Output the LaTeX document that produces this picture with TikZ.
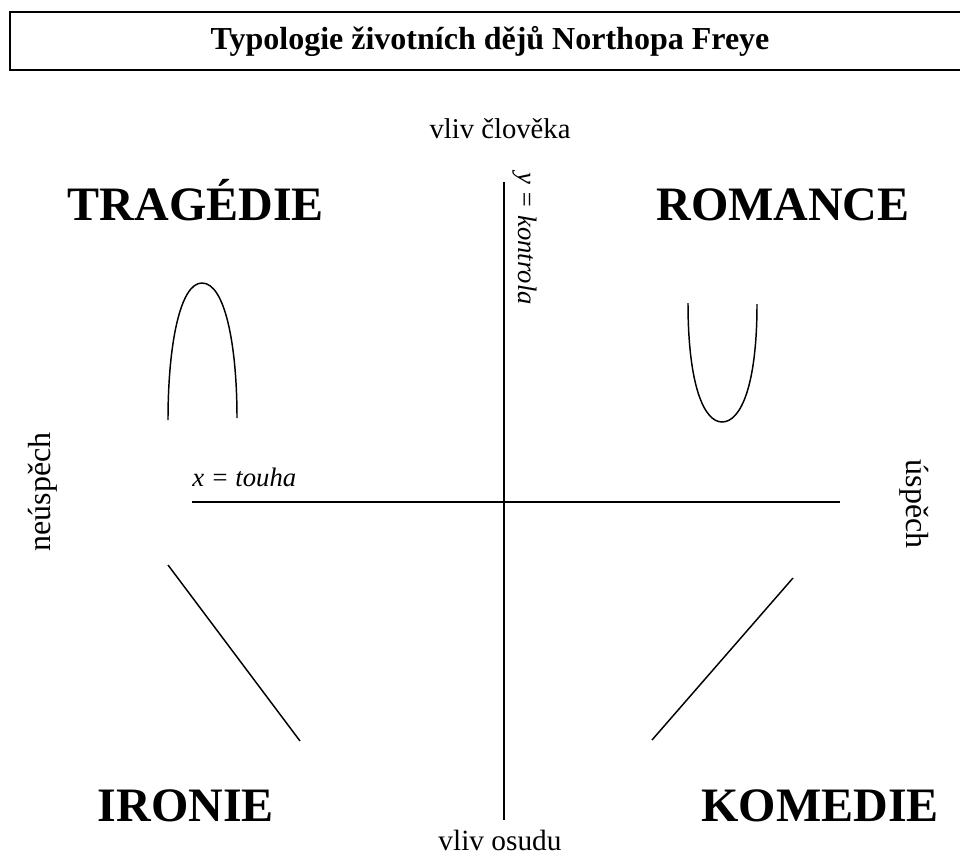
\documentclass[tikz,border=0pt]{standalone}
\usepackage{fontspec}
\setmainfont{Liberation Serif}
\begin{document}
\begin{tikzpicture}[x=0.75pt,y=-0.75pt,
  bigword/.style={font=\fontsize{36}{40}\selectfont\bfseries, inner sep=0pt, anchor=base},
  sidelabel/.style={font=\fontsize{24}{28}\selectfont, inner sep=0pt, anchor=base},
  axislabel/.style={font=\fontsize{20}{24}\selectfont\itshape, inner sep=0pt, anchor=base},
  axisline/.style={line width=1pt},
  curveline/.style={line width=1.1pt}]
\useasboundingbox (0,0) rectangle (960,856);
\clip (0,0) rectangle (960,856);
% title
\node[draw, line width=1.6pt, minimum width=1000*0.75pt, minimum height=58*0.75pt, anchor=north west, inner sep=0pt] (box) at (9,11) {};
\node[font=\fontsize{24}{28}\selectfont\bfseries, inner sep=0pt, anchor=base] (title) at (490,50) {Typologie životních dějů Northopa Freye};
% axes
\coordinate (ytop) at (504,182);
\coordinate (ybot) at (504,820);
\coordinate (xleft) at (192,502);
\coordinate (xright) at (840,502);
\draw[axisline] (ytop) -- (ybot);
\draw[axisline] (xleft) -- (xright);
% labels
\node[sidelabel, font=\fontsize{21.5}{26}\selectfont] (top) at (500,138) {vliv člověka};
\node[sidelabel, font=\fontsize{22}{26}\selectfont] (bottom) at (500,850) {vliv osudu};
\node[sidelabel, rotate=90, anchor=base] (left) at (50,492) {neúspěch};
\node[sidelabel, rotate=-90, anchor=base] (right) at (906,504) {úspěch};
\node[axislabel, anchor=base west] (xl) at (192,486) {x = touha};
\node[axislabel, rotate=-90, anchor=base west] (yl) at (518,172) {y = kontrola};
\node[bigword] (trag) at (196,220) {TRAGÉDIE};
\node[bigword] (rom) at (783,220) {ROMANCE};
\node[bigword] (iron) at (186,821) {IRONIE};
\node[bigword] (kom) at (820,821) {KOMEDIE};
% curves
\coordinate (t1) at (168,420);
\coordinate (t2) at (202,283);
\coordinate (t3) at (237,418);
\draw[curveline] (t1) .. controls (168,345) and (180,283) .. (t2) .. controls (225,283) and (237,345) .. (t3);
\coordinate (r1) at (688,303);
\coordinate (r2) at (722,422);
\coordinate (r3) at (757,304);
\draw[curveline] (r1) .. controls (688,385) and (704,422) .. (r2) .. controls (741,422) and (757,385) .. (r3);
\coordinate (i1) at (168,565);
\coordinate (i2) at (300,741);
\draw[curveline] (i1) -- (i2);
\coordinate (k1) at (652,740);
\coordinate (k2) at (793,578);
\draw[curveline] (k1) -- (k2);
\end{tikzpicture}
\end{document}
